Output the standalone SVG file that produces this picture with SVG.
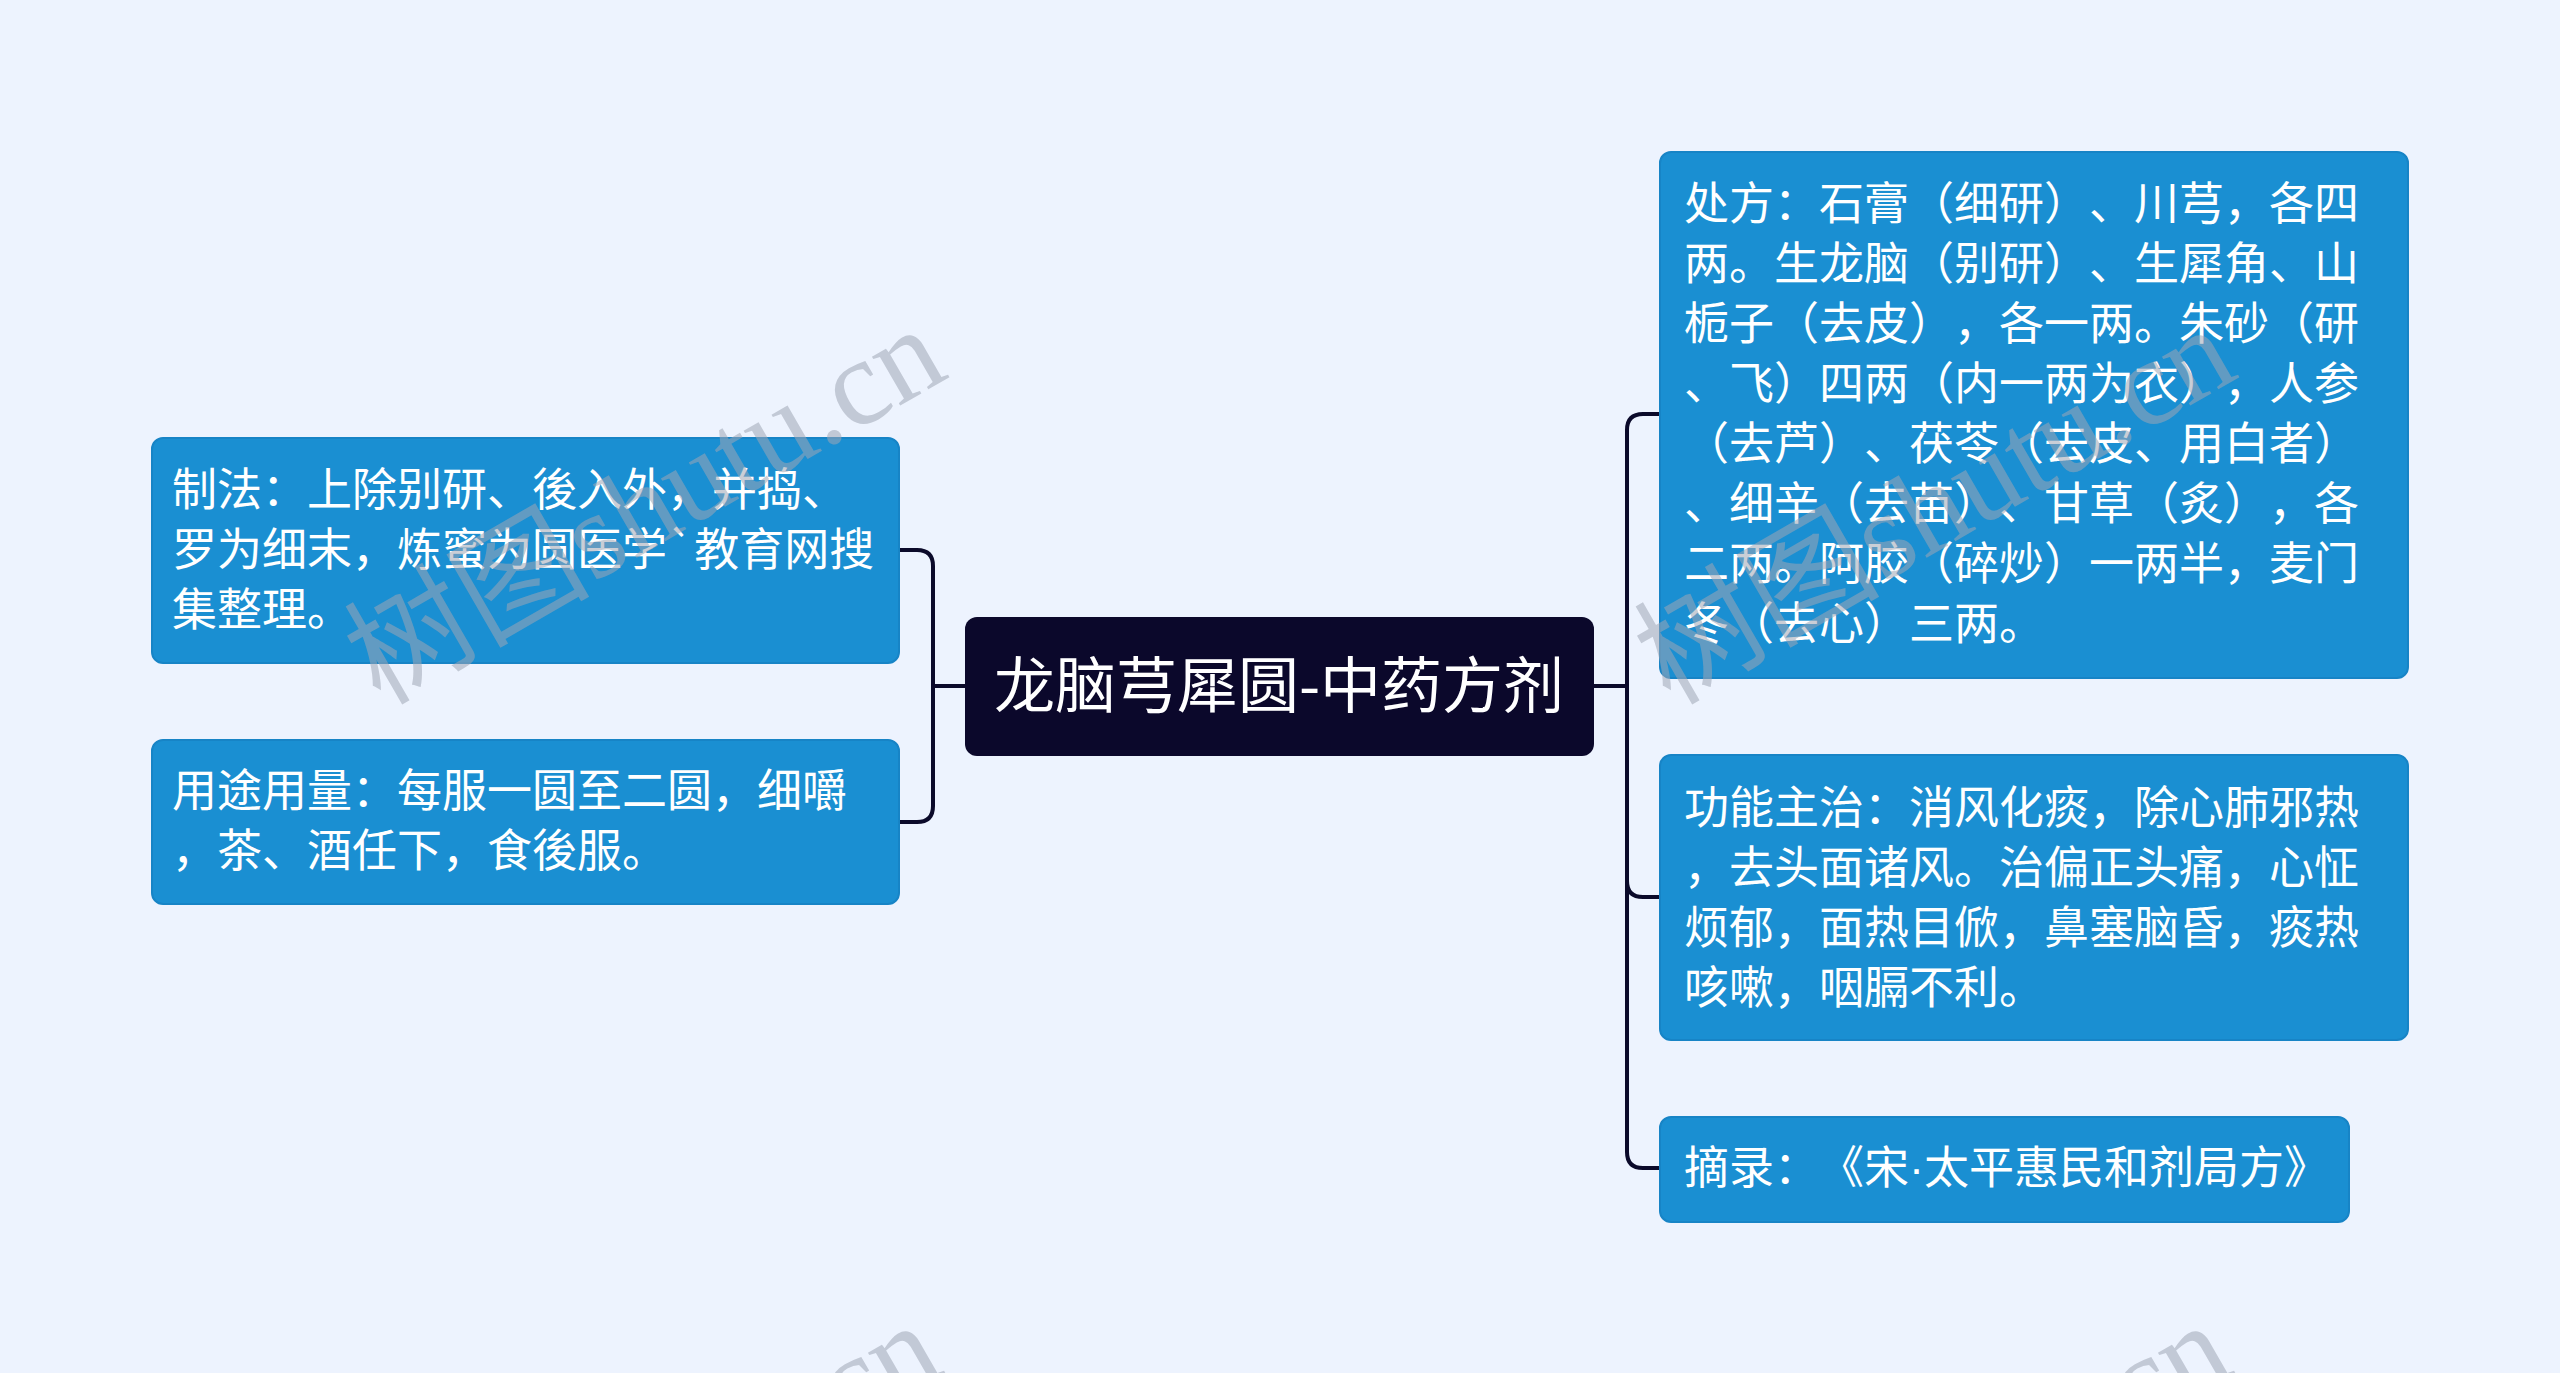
<svg xmlns="http://www.w3.org/2000/svg" width="2560" height="1373" viewBox="0 0 2560 1373">
<style>
.bg{fill:#edf3fe}
.node{fill:#1a8fd2;stroke:#1784c6;stroke-width:2}
.root{fill:#0b082b}
.t{font-family:"Noto Sans CJK SC","Noto Sans",sans-serif;font-size:45px;fill:#ffffff;text-spacing-trim:space-all}
.rt{font-family:"Noto Sans CJK SC","Noto Sans",sans-serif;font-size:61px;fill:#ffffff}
.dot{font-family:"Liberation Sans",sans-serif}
.edge{fill:none;stroke:#0b0a2a;stroke-width:4;stroke-linecap:round;stroke-linejoin:round}
.wm{font-family:"Liberation Serif","Noto Sans CJK SC",serif;font-size:123px;fill:#9ea6b4;fill-opacity:0.55}
</style>
<rect class="bg" x="0" y="0" width="2560" height="1373"/>
<g id="connectors">
<path class="edge" d="M965,686 H933"/>
<path class="edge" d="M933,686 V566 Q933,550 917,550 H900"/>
<path class="edge" d="M933,686 V806 Q933,822 917,822 H900"/>
<path class="edge" d="M1594,686 H1627"/>
<path class="edge" d="M1627,686 V430 Q1627,414 1643,414 H1660"/>
<path class="edge" d="M1627,686 V881 Q1627,897 1643,897 H1660"/>
<path class="edge" d="M1627,686 V1152 Q1627,1168 1643,1168 H1660"/>
</g>
<g id="root">
<rect class="root" x="965" y="617" width="629" height="139" rx="12"/>
<text class="rt" x="1279" y="708" text-anchor="middle">龙脑芎犀圆-中药方剂</text>
</g>
<g id="node-zhifa">
<rect class="node" x="152" y="438" width="747" height="225" rx="11"/>
<text class="t" x="172" y="506">制法：上除别研、後入外，并捣、</text>
<text class="t" x="172" y="566">罗为细末，炼蜜为圆医学`教育网搜</text>
<text class="t" x="172" y="626">集整理。</text>
</g>
<g id="node-yongtu">
<rect class="node" x="152" y="740" width="747" height="164" rx="11"/>
<text class="t" x="172" y="807">用途用量：每服一圆至二圆，细嚼</text>
<text class="t" x="172" y="867">，茶、酒任下，食後服。</text>
</g>
<g id="node-chufang">
<rect class="node" x="1660" y="152" width="748" height="526" rx="11"/>
<text class="t" x="1684" y="220">处方：石膏（细研）、川芎，各四</text>
<text class="t" x="1684" y="280">两。生龙脑（别研）、生犀角、山</text>
<text class="t" x="1684" y="340">栀子（去皮），各一两。朱砂（研</text>
<text class="t" x="1684" y="400">、飞）四两（内一两为衣），人参</text>
<text class="t" x="1684" y="460">（去芦）、茯苓（去皮、用白者）</text>
<text class="t" x="1684" y="520">、细辛（去苗）、甘草（炙），各</text>
<text class="t" x="1684" y="580">二两。阿胶（碎炒）一两半，麦门</text>
<text class="t" x="1684" y="640">冬（去心）三两。</text>
</g>
<g id="node-gongneng">
<rect class="node" x="1660" y="755" width="748" height="285" rx="11"/>
<text class="t" x="1684" y="824">功能主治：消风化痰，除心肺邪热</text>
<text class="t" x="1684" y="884">，去头面诸风。治偏正头痛，心怔</text>
<text class="t" x="1684" y="944">烦郁，面热目俽，鼻塞脑昏，痰热</text>
<text class="t" x="1684" y="1004">咳嗽，咽膈不利。</text>
</g>
<g id="node-zhailu">
<rect class="node" x="1660" y="1117" width="689" height="105" rx="11"/>
<text class="t" x="1684" y="1184">摘录：《宋<tspan class="dot">·</tspan>太平惠民和剂局方》</text>
</g>
<g id="watermark">
<text class="wm" transform="translate(380,706) rotate(-30)">树图shutu.cn</text>
<text class="wm" transform="translate(1670,706) rotate(-30)">树图shutu.cn</text>
<text class="wm" transform="translate(376,1702) rotate(-30)">树图shutu.cn</text>
<text class="wm" transform="translate(1666,1702) rotate(-30)">树图shutu.cn</text>
</g>
</svg>
